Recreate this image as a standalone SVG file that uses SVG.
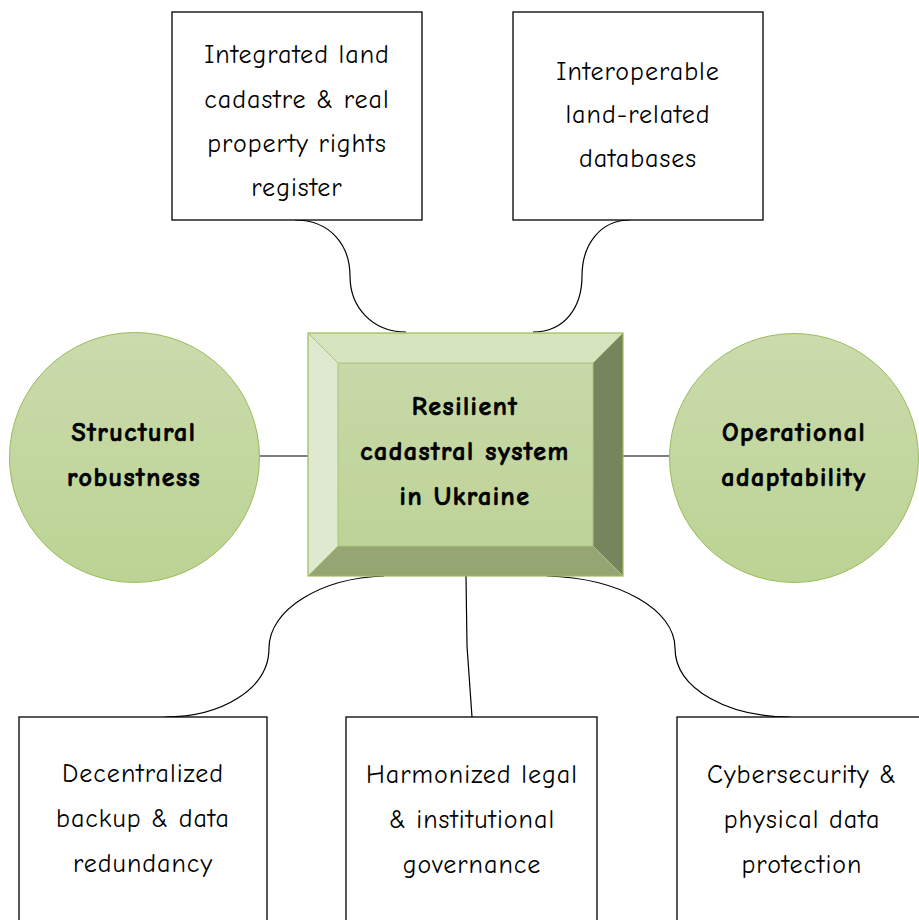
<svg xmlns="http://www.w3.org/2000/svg" width="919" height="920" viewBox="0 0 919 920">
  <style>
    .box { fill: #ffffff; stroke: #000000; stroke-width: 1.3; }
    .circle { fill: url(#circleFill); stroke: #9bbb59; stroke-width: 1; }
    .label { font-family: "Comic Neue", "Open Sans", "Liberation Sans", sans-serif; font-size: 26px; letter-spacing: 1px; fill: #000000; text-anchor: middle; }
    .bold { font-weight: bold; letter-spacing: 1.5px; stroke: #000000; stroke-width: 0.7px; }
    .wire { fill: none; stroke: #000000; stroke-width: 1.2; }
    .stub { fill: none; stroke: #555555; stroke-width: 1.3; }
  </style>
  <defs>
    <linearGradient id="circleFill" x1="0" y1="0" x2="0" y2="1">
      <stop offset="0" stop-color="#cbdbad"/>
      <stop offset="1" stop-color="#bbd393"/>
    </linearGradient>
    <linearGradient id="faceFill" x1="0" y1="0" x2="0" y2="1">
      <stop offset="0" stop-color="#c9daab"/>
      <stop offset="1" stop-color="#bcd294"/>
    </linearGradient>
  </defs>

  <rect width="919" height="920" fill="#ffffff"/>

  <!-- connectors -->
  <g id="connectors">
    <path class="wire" d="M295,220 C330,220 350,245 350,276 C350,307 372,332 406,332"/>
    <path class="wire" d="M630,220 C600,220 582,245 582,276 C582,307 565,332 533,332"/>
    <path class="stub" d="M259,456 L308,456"/>
    <path class="stub" d="M623,456 L670,456"/>
    <path class="wire" d="M384,576 C320,578 269,610 269,648 C269,690 220,717 165,717"/>
    <path class="wire" d="M466,576 L467,646 L472,717"/>
    <path class="wire" d="M547,576 C620,578 675,610 675,648 C675,690 730,717 790,717"/>
  </g>

  <!-- top boxes -->
  <g id="node-cadastre">
    <rect class="box" x="172" y="12" width="250" height="208"/>
    <text class="label" x="297" y="63">Integrated land</text>
    <text class="label" x="297" y="108">cadastre &amp; real</text>
    <text class="label" x="297" y="152">property rights</text>
    <text class="label" x="297" y="196">register</text>
  </g>
  <g id="node-databases">
    <rect class="box" x="513" y="12" width="250" height="208"/>
    <text class="label" x="638" y="80">Interoperable</text>
    <text class="label" x="638" y="123">land-related</text>
    <text class="label" x="638" y="167">databases</text>
  </g>

  <!-- central bevelled box -->
  <g id="node-core">
    <rect x="308" y="333" width="315" height="243" fill="url(#faceFill)"/>
    <polygon points="308,333 623,333 593,363 338,363" fill="#d6e4c0"/>
    <polygon points="308,333 338,363 338,546 308,576" fill="#dee9cf"/>
    <polygon points="623,333 623,576 593,546 593,363" fill="#76855d"/>
    <polygon points="308,576 338,546 593,546 623,576" fill="#95a674"/>
    <rect x="338" y="363" width="255" height="183" fill="none" stroke="#a9c47a" stroke-width="1"/>
    <path d="M308,333 L338,363 M623,333 L593,363 M308,576 L338,546 M623,576 L593,546" stroke="#a9c47a" stroke-width="1" fill="none"/>
    <rect x="308" y="333" width="315" height="243" fill="none" stroke="#9bbb59" stroke-width="1.2"/>
    <text class="label bold" x="465" y="415">Resilient</text>
    <text class="label bold" x="465" y="460">cadastral system</text>
    <text class="label bold" x="465" y="505">in Ukraine</text>
  </g>

  <!-- side circles -->
  <g id="node-structural">
    <circle class="circle" cx="134.5" cy="457.5" r="125"/>
    <text class="label bold" x="134" y="441">Structural</text>
    <text class="label bold" x="134" y="486">robustness</text>
  </g>
  <g id="node-operational">
    <circle class="circle" cx="794" cy="458" r="124.5"/>
    <text class="label bold" x="794" y="441">Operational</text>
    <text class="label bold" x="794" y="486">adaptability</text>
  </g>

  <!-- bottom boxes -->
  <g id="node-backup">
    <rect class="box" x="19" y="717" width="248" height="215"/>
    <text class="label" x="143" y="782">Decentralized</text>
    <text class="label" x="143" y="827">backup &amp; data</text>
    <text class="label" x="143" y="872">redundancy</text>
  </g>
  <g id="node-governance">
    <rect class="box" x="346" y="717" width="251" height="215"/>
    <text class="label" x="472" y="783">Harmonized legal</text>
    <text class="label" x="472" y="828">&amp; institutional</text>
    <text class="label" x="472" y="873">governance</text>
  </g>
  <g id="node-security">
    <rect class="box" x="677" y="717" width="260" height="215"/>
    <text class="label" x="802" y="783">Cybersecurity &amp;</text>
    <text class="label" x="802" y="828">physical data</text>
    <text class="label" x="802" y="873">protection</text>
  </g>
</svg>
